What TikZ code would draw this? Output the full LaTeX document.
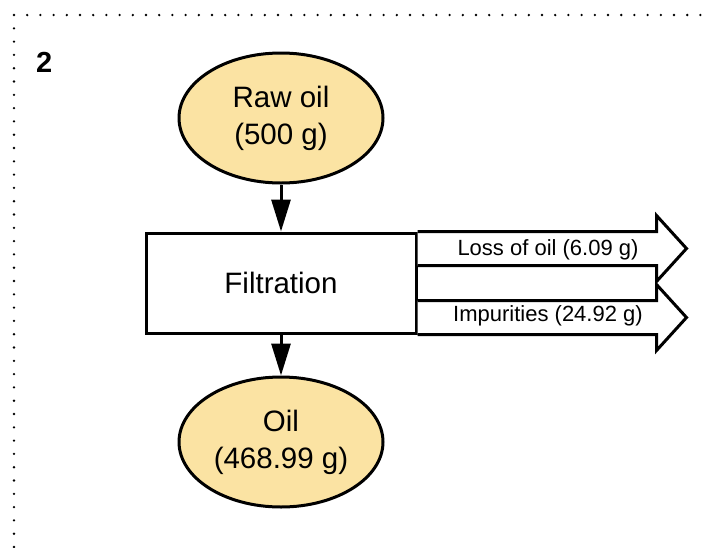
\documentclass[tikz,border=0pt]{standalone}
\usepackage{fontspec}
\setmainfont{Liberation Sans}
\usetikzlibrary{shapes.geometric,arrows.meta,calc}
\definecolor{oilfill}{HTML}{FBE3A3}
\begin{document}
\begin{tikzpicture}[x=1pt,y=-1pt,
  stream/.style={ellipse,draw,line width=3pt,fill=oilfill,minimum width=204pt,
    minimum height=130pt,inner sep=0pt,align=center,
    font=\fontsize{29.5}{37}\selectfont},
  process/.style={rectangle,draw,line width=3pt,fill=white,minimum width=270pt,
    minimum height=100pt,font=\fontsize{29.5}{37}\selectfont},
  flow/.style={line width=3pt,-{Triangle[length=32pt,width=19pt]}},
  outlet/.style={draw,line width=3pt,fill=white,line join=miter},
  outtext/.style={font=\fontsize{22}{26}\selectfont,inner sep=0pt},
  borderdot/.style={fill=black}]
\useasboundingbox (0,0) rectangle (713,547);

% dotted frame along the top and left edges
\foreach \i in {0,...,52} \fill[borderdot] (14+\i*13.2,15) circle[radius=1.3pt];
\foreach \j in {1,...,40} \fill[borderdot] (14,15+\j*13.3) circle[radius=1.3pt];

% panel number
\node[font=\bfseries\fontsize{29}{32}\selectfont,anchor=base west,inner sep=0pt]
  (num) at (36,72) {2};

% main process chain
\node[stream]  (raw)  at (281,118) {Raw oil\\(500 g)};
\node[process] (filt) at (281,283) {Filtration};
\node[stream]  (oil)  at (281,442) {Oil\\(468.99 g)};

\draw[flow] (raw) -- (filt);
\draw[flow] (filt) -- (oil);

% side outlets leaving the filtration step
\coordinate (up0) at (filt.north east);
\coordinate (lo0) at (filt.south east);
\draw[outlet] (up0) -- ++(239,0) -- ++(0,-16) -- ++(30,33) -- ++(-30,33)
  -- ++(0,-16) -- ++(-239,0);
\draw[outlet] (lo0) -- ++(239,0) -- ++(0,16) -- ++(30,-33) -- ++(-30,-33)
  -- ++(0,16) -- ++(-239,0);

\node[outtext] (loss) at (548,250) {Loss of oil (6.09 g)};
\node[outtext] (imp)  at (548,316) {Impurities (24.92 g)};
\end{tikzpicture}
\end{document}
